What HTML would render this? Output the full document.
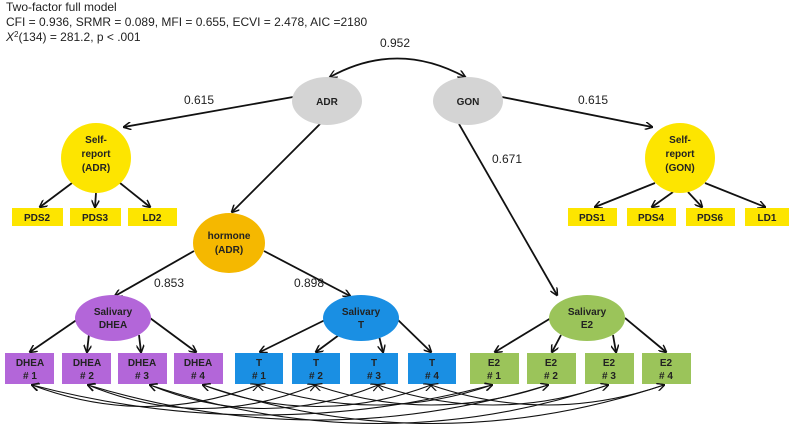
<!DOCTYPE html>
<html><head><style>
body{margin:0;background:#fff;}
svg{display:block;font-family:"Liberation Sans",Arial,sans-serif;}
.b{font-weight:bold;font-size:10px;fill:#222;}
.n{font-size:12px;fill:#222;}
</style></head><body>
<svg width="790" height="430" viewBox="0 0 790 430" xmlns="http://www.w3.org/2000/svg">
<defs>
<marker id="a" markerWidth="8" markerHeight="8" refX="7" refY="4" orient="auto" markerUnits="userSpaceOnUse"><path d="M0,0 L8,4 L0,8" fill="none" stroke="#111" stroke-width="1.5"/></marker>
<marker id="s" markerWidth="8" markerHeight="8" refX="7" refY="4" orient="auto-start-reverse" markerUnits="userSpaceOnUse"><path d="M0,0 L8,4 L0,8" fill="none" stroke="#111" stroke-width="1.2"/></marker>
</defs>
<text x="6" y="11" class="n">Two-factor full model</text>
<text x="6" y="26" class="n">CFI = 0.936, SRMR = 0.089, MFI = 0.655, ECVI = 2.478, AIC =2180</text>
<text x="6" y="41" class="n"><tspan font-style="italic">X</tspan><tspan font-size="8" dy="-4">2</tspan><tspan dy="4">(134) = 281.2, p &lt; .001</tspan></text>
<text x="380" y="47" class="n">0.952</text>
<text x="184" y="104" class="n">0.615</text>
<text x="578" y="104" class="n">0.615</text>
<text x="492" y="163" class="n">0.671</text>
<text x="154" y="287" class="n">0.853</text>
<text x="294" y="287" class="n">0.898</text>
<g stroke="#111" stroke-width="1.8" fill="none" marker-end="url(#a)">
<path d="M330,77 Q397,40 465,77" marker-start="url(#s)"/>
<line x1="293" y1="97" x2="124" y2="127"/>
<line x1="502" y1="97" x2="652" y2="127"/>
<line x1="322" y1="122" x2="232" y2="212"/>
<line x1="459" y1="124" x2="557" y2="295"/>
<line x1="72" y1="183" x2="40" y2="207"/>
<line x1="96" y1="193" x2="95" y2="207"/>
<line x1="120" y1="183" x2="150" y2="207"/>
<line x1="655" y1="183" x2="595" y2="207"/>
<line x1="673" y1="192" x2="652" y2="207"/>
<line x1="688" y1="192" x2="702" y2="207"/>
<line x1="705" y1="183" x2="765" y2="207"/>
<line x1="194" y1="251" x2="115" y2="296"/>
<line x1="264" y1="251" x2="350" y2="296"/>
<line x1="78" y1="319" x2="30" y2="352"/>
<line x1="89" y1="334" x2="87" y2="352"/>
<line x1="139" y1="335" x2="141" y2="352"/>
<line x1="150" y1="318" x2="196" y2="352"/>
<line x1="325" y1="320" x2="260" y2="352"/>
<line x1="339" y1="335" x2="316" y2="352"/>
<line x1="379" y1="336" x2="383" y2="352"/>
<line x1="397" y1="319" x2="431" y2="352"/>
<line x1="551" y1="318" x2="495" y2="352"/>
<line x1="561" y1="335" x2="552" y2="352"/>
<line x1="613" y1="335" x2="616" y2="352"/>
<line x1="625" y1="318" x2="666" y2="352"/>
</g>
<ellipse cx="327" cy="101" rx="35" ry="24" fill="#d4d4d4"/>
<text x="327" y="105" text-anchor="middle" class="b">ADR</text>
<ellipse cx="468" cy="101" rx="35" ry="24" fill="#d4d4d4"/>
<text x="468" y="105" text-anchor="middle" class="b">GON</text>
<ellipse cx="96" cy="158" rx="35" ry="35" fill="#fde500"/>
<text x="96" y="143" text-anchor="middle" class="b">Self-</text>
<text x="96" y="157" text-anchor="middle" class="b">report</text>
<text x="96" y="171" text-anchor="middle" class="b">(ADR)</text>
<ellipse cx="680" cy="158" rx="35" ry="35" fill="#fde500"/>
<text x="680" y="143" text-anchor="middle" class="b">Self-</text>
<text x="680" y="157" text-anchor="middle" class="b">report</text>
<text x="680" y="171" text-anchor="middle" class="b">(GON)</text>
<g fill="#fde500">
<rect x="12" y="208" width="51" height="18"/><rect x="70" y="208" width="51" height="18"/><rect x="128" y="208" width="49" height="18"/>
<rect x="568" y="208" width="49" height="18"/><rect x="627" y="208" width="49" height="18"/><rect x="686" y="208" width="49" height="18"/><rect x="745" y="208" width="44" height="18"/>
</g>
<g class="b" text-anchor="middle">
<text x="37" y="221">PDS2</text><text x="95" y="221">PDS3</text><text x="152" y="221">LD2</text>
<text x="592" y="221">PDS1</text><text x="651" y="221">PDS4</text><text x="710" y="221">PDS6</text><text x="767" y="221">LD1</text>
</g>
<ellipse cx="229" cy="243" rx="36" ry="30" fill="#f5b800"/>
<text x="229" y="239" text-anchor="middle" class="b">hormone</text>
<text x="229" y="253" text-anchor="middle" class="b">(ADR)</text>
<ellipse cx="113" cy="318" rx="38" ry="23" fill="#b366d9"/>
<text x="113" y="315" text-anchor="middle" class="b">Salivary</text><text x="113" y="328" text-anchor="middle" class="b">DHEA</text>
<ellipse cx="361" cy="318" rx="38" ry="23" fill="#1a8fe3"/>
<text x="361" y="315" text-anchor="middle" class="b">Salivary</text><text x="361" y="328" text-anchor="middle" class="b">T</text>
<ellipse cx="587" cy="318" rx="38" ry="23" fill="#9bc45a"/>
<text x="587" y="315" text-anchor="middle" class="b">Salivary</text><text x="587" y="328" text-anchor="middle" class="b">E2</text>
<g fill="#b366d9"><rect x="5" y="353" width="49" height="31"/><rect x="62" y="353" width="49" height="31"/><rect x="118" y="353" width="49" height="31"/><rect x="174" y="353" width="49" height="31"/></g>
<g fill="#1a8fe3"><rect x="235" y="353" width="48" height="31"/><rect x="292" y="353" width="48" height="31"/><rect x="350" y="353" width="48" height="31"/><rect x="408" y="353" width="48" height="31"/></g>
<g fill="#9bc45a"><rect x="470" y="353" width="49" height="31"/><rect x="527" y="353" width="49" height="31"/><rect x="585" y="353" width="49" height="31"/><rect x="642" y="353" width="49" height="31"/></g>
<g class="b" text-anchor="middle">
<text x="30" y="366">DHEA</text><text x="30" y="379"># 1</text>
<text x="87" y="366">DHEA</text><text x="87" y="379"># 2</text>
<text x="142" y="366">DHEA</text><text x="142" y="379"># 3</text>
<text x="198" y="366">DHEA</text><text x="198" y="379"># 4</text>
<text x="259" y="366">T</text><text x="259" y="379"># 1</text>
<text x="316" y="366">T</text><text x="316" y="379"># 2</text>
<text x="374" y="366">T</text><text x="374" y="379"># 3</text>
<text x="432" y="366">T</text><text x="432" y="379"># 4</text>
<text x="494" y="366">E2</text><text x="494" y="379"># 1</text>
<text x="551" y="366">E2</text><text x="551" y="379"># 2</text>
<text x="609" y="366">E2</text><text x="609" y="379"># 3</text>
<text x="666" y="366">E2</text><text x="666" y="379"># 4</text>
</g>
<g stroke="#111" stroke-width="1.1" fill="none" marker-start="url(#s)" marker-end="url(#s)">
<path d="M32,385 Q145,428 258,385"/>
<path d="M88,385 Q202,432 315,385"/>
<path d="M150,385 Q264,432 378,385"/>
<path d="M203,385 Q317,428 431,385"/>
<path d="M32,385 Q262,445 492,385"/>
<path d="M88,385 Q318,455 548,385"/>
<path d="M150,385 Q379,462 608,385"/>
<path d="M203,385 Q433,462 664,385"/>
<path d="M258,385 Q375,425 492,385"/>
<path d="M315,385 Q431,425 548,385"/>
<path d="M378,385 Q493,425 608,385"/>
<path d="M431,385 Q547,425 664,385"/>
</g>
</svg>
</body></html>
